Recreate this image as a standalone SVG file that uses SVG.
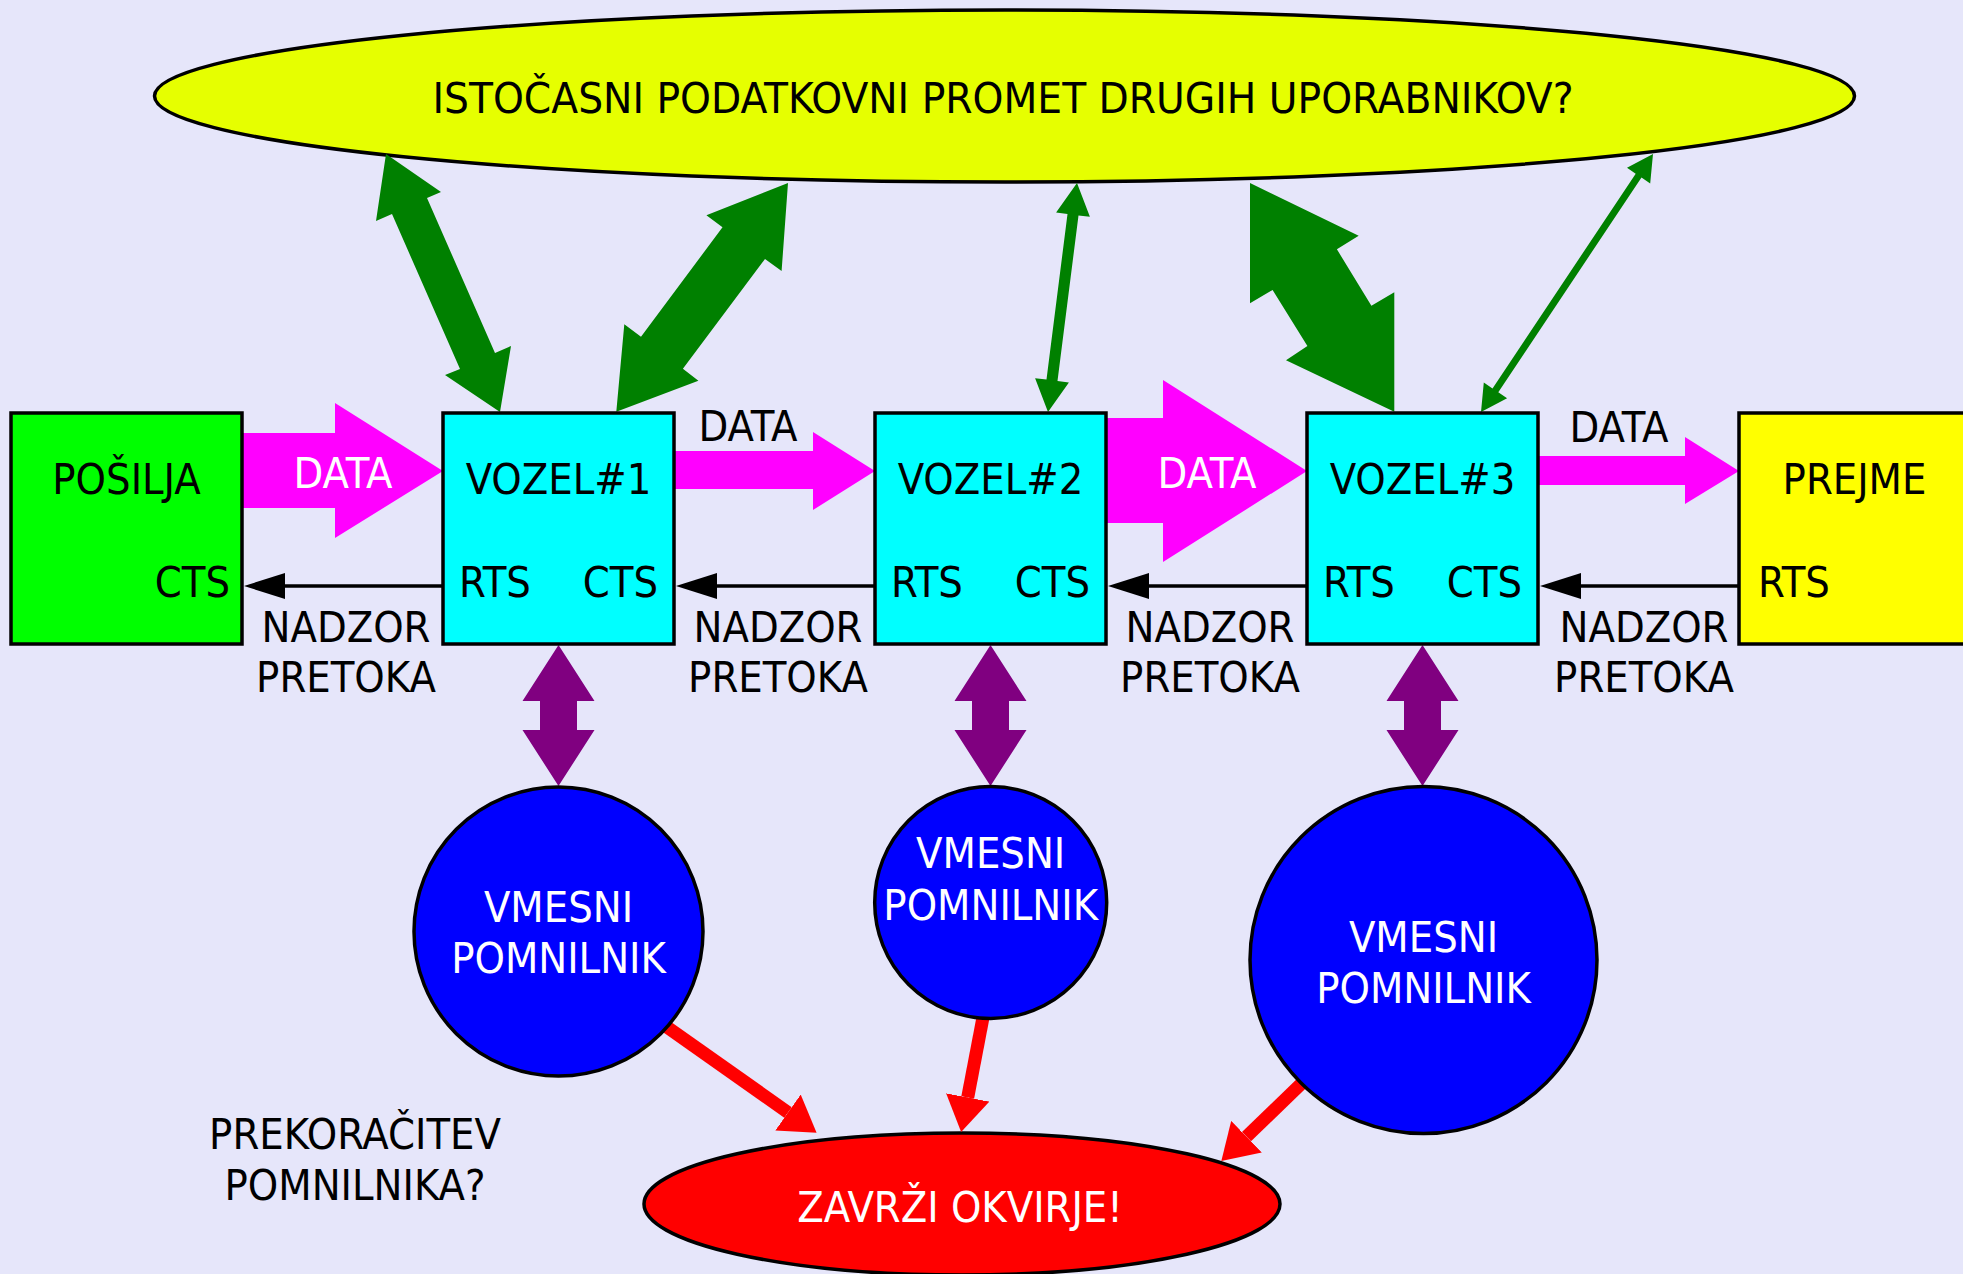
<svg xmlns="http://www.w3.org/2000/svg" width="1963" height="1274" viewBox="0 0 1963 1274">
  <style>
    text { font-family: "DejaVu Sans Condensed", "DejaVu Sans", sans-serif; font-stretch: condensed; font-size: 43px; fill: #000; }
    .mid { text-anchor: middle; }
    .end { text-anchor: end; }
    .white { fill: #fff; }
    .box { stroke: #000; stroke-width: 3.5; }
    .outline { stroke: #000; stroke-width: 3.5; }
    .green { fill: #008000; }
    .magenta { fill: #ff00ff; }
    .purple { fill: #800080; }
    .flow { stroke: #000; stroke-width: 3.5; fill: none; }
    .drop { stroke: #ff0000; stroke-width: 13; fill: none; marker-end: url(#redHead); }
  </style>
  <defs>
    <marker id="redHead" markerUnits="userSpaceOnUse" viewBox="0 0 35 44" refX="0" refY="22" markerWidth="35" markerHeight="44" orient="auto">
      <path d="M0,0 L35,22 L0,44 Z" fill="#ff0000"/>
    </marker>
    <polygon id="buffArrow" class="purple" points="0,645 36,701 18.5,701 18.5,730 36,730 0,786 -36,730 -18.5,730 -18.5,701 -36,701"/>
  </defs>

  <rect x="0" y="0" width="1963" height="1274" fill="#e6e6fa"/>

  <!-- shared traffic of other users -->
  <g id="traffic">
    <ellipse class="outline" cx="1004.5" cy="96" rx="850" ry="86" fill="#e6ff00"/>
    <text class="mid" x="1003" y="113" textLength="1141" lengthAdjust="spacingAndGlyphs">ISTOČASNI PODATKOVNI PROMET DRUGIH UPORABNIKOV?</text>
  </g>

  <!-- discard frames -->
  <g id="discard">
    <ellipse class="outline" cx="962" cy="1204" rx="318" ry="71" fill="#ff0000"/>
    <text class="mid white" x="960" y="1222">ZAVRŽI OKVIRJE!</text>
  </g>

  <g id="connectors">
    <!-- links to the shared traffic -->
    <polygon class="green" points="386,154 441,192 427,198 495,353 511,346 500,412 445,375 460,369 392,214 376,221"/>
    <polygon class="green" points="788,183 781.6,271 765,259 682.9,368.7 698.4,380.7 616.3,411.7 624.3,324.3 641,336.7 722.5,227.3 706.4,215.3"/>
    <polygon class="green" points="1077,183 1089.9,216.8 1078.5,215.4 1057.5,381 1068.9,382.4 1048,412 1035.1,378.2 1046.5,379.6 1067.5,214 1056.1,212.6"/>
    <polygon class="green" points="1250,183 1358.7,235.7 1336.9,249.3 1371.4,305.7 1394.3,292.3 1394.3,411.7 1286,360.3 1307.4,346 1272.6,290 1250,303.3"/>
    <polygon class="green" points="1653,154 1650.2,183.4 1641.5,177.5 1498.3,392.3 1507.1,398.2 1481,412 1483.8,382.6 1492.5,388.5 1635.7,173.7 1627,167.8"/>

    <!-- data flow -->
    <polygon class="magenta" points="242,433 335,433 335,403 443,471 335,538 335,508 242,508"/>
    <text class="mid white" x="343" y="488">DATA</text>
    <polygon class="magenta" points="674,451 813,451 813,432 875,471 813,510 813,489 674,489"/>
    <text class="mid" x="748" y="441">DATA</text>
    <polygon class="magenta" points="1106,418 1163,418 1163,380 1307,471 1163,562 1163,523 1106,523"/>
    <text class="mid white" x="1207" y="488">DATA</text>
    <polygon class="magenta" points="1538,456 1685,456 1685,437 1739,471 1685,504 1685,485 1538,485"/>
    <text class="mid" x="1619" y="442">DATA</text>

    <!-- flow control -->
    <line class="flow" x1="284" y1="586" x2="443" y2="586"/>
    <polygon points="244,586 285,573 285,599"/>
    <text class="mid" x="346" y="642">NADZOR</text>
    <text class="mid" x="346" y="692">PRETOKA</text>
    <line class="flow" x1="716" y1="586" x2="875" y2="586"/>
    <polygon points="676,586 717,573 717,599"/>
    <text class="mid" x="778" y="642">NADZOR</text>
    <text class="mid" x="778" y="692">PRETOKA</text>
    <line class="flow" x1="1148" y1="586" x2="1307" y2="586"/>
    <polygon points="1108,586 1149,573 1149,599"/>
    <text class="mid" x="1210" y="642">NADZOR</text>
    <text class="mid" x="1210" y="692">PRETOKA</text>
    <line class="flow" x1="1580" y1="586" x2="1739" y2="586"/>
    <polygon points="1540,586 1581,573 1581,599"/>
    <text class="mid" x="1644" y="642">NADZOR</text>
    <text class="mid" x="1644" y="692">PRETOKA</text>

    <!-- node to buffer -->
    <use href="#buffArrow" x="558.5"/>
    <use href="#buffArrow" x="990.5"/>
    <use href="#buffArrow" x="1422.5"/>

    <!-- buffer overflow -->
    <line class="drop" x1="640" y1="1008" x2="788" y2="1112.5"/>
    <line class="drop" x1="986.5" y1="999.2" x2="967.7" y2="1097.5"/>
    <line class="drop" x1="1318.4" y1="1067.2" x2="1246.5" y2="1136.7"/>
  </g>

  <g id="sender">
    <rect class="box" x="11" y="413" width="231" height="231" fill="#00ff00"/>
    <text class="mid" x="126.5" y="494">POŠILJA</text>
    <text class="end" x="230" y="597">CTS</text>
  </g>
  <g id="node1">
    <rect class="box" x="443" y="413" width="231" height="231" fill="#00ffff"/>
    <text class="mid" x="558.5" y="494">VOZEL#1</text>
    <text x="459" y="597">RTS</text>
    <text class="end" x="658" y="597">CTS</text>
  </g>
  <g id="node2">
    <rect class="box" x="875" y="413" width="231" height="231" fill="#00ffff"/>
    <text class="mid" x="990.5" y="494">VOZEL#2</text>
    <text x="891" y="597">RTS</text>
    <text class="end" x="1090" y="597">CTS</text>
  </g>
  <g id="node3">
    <rect class="box" x="1307" y="413" width="231" height="231" fill="#00ffff"/>
    <text class="mid" x="1422.5" y="494">VOZEL#3</text>
    <text x="1323" y="597">RTS</text>
    <text class="end" x="1522" y="597">CTS</text>
  </g>
  <g id="receiver">
    <rect class="box" x="1739" y="413" width="231" height="231" fill="#ffff00"/>
    <text class="mid" x="1854.5" y="494">PREJME</text>
    <text x="1758" y="597">RTS</text>
  </g>

  <g id="buffer1">
    <circle class="outline" cx="558.5" cy="931.5" r="144.5" fill="#0000ff"/>
    <text class="mid white" x="558.5" y="922">VMESNI</text>
    <text class="mid white" x="558.5" y="973">POMNILNIK</text>
  </g>
  <g id="buffer2">
    <circle class="outline" cx="990.7" cy="902.5" r="116" fill="#0000ff"/>
    <text class="mid white" x="990.7" y="868">VMESNI</text>
    <text class="mid white" x="990.7" y="919.5">POMNILNIK</text>
  </g>
  <g id="buffer3">
    <circle class="outline" cx="1423.5" cy="960" r="173.5" fill="#0000ff"/>
    <text class="mid white" x="1423.5" y="952">VMESNI</text>
    <text class="mid white" x="1423.5" y="1003">POMNILNIK</text>
  </g>

  <g id="overflow-note">
    <text class="mid" x="355" y="1149">PREKORAČITEV</text>
    <text class="mid" x="355" y="1200">POMNILNIKA?</text>
  </g>
</svg>
